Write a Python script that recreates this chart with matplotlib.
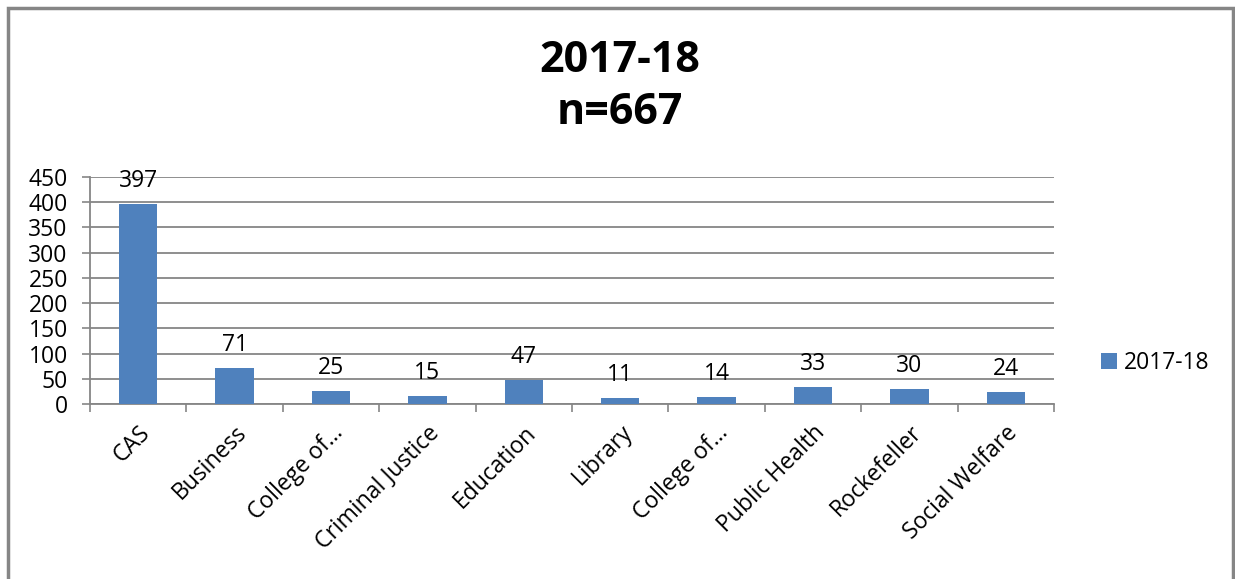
import numpy as np
import matplotlib.pyplot as plt
from matplotlib.patches import Rectangle

# datos
colleges = ["CAS", "Business", "College of…", "Criminal Justice", "Education",
            "Library", "College of…", "Public Health", "Rockefeller", "Social Welfare"]
counts = [397, 71, 25, 15, 47, 11, 14, 33, 30, 24]
series_name = "2017-18"
yticks = [0, 50, 100, 150, 200, 250, 300, 350, 400, 450]

plt.rcParams['font.family'] = ['Open Sans', 'DejaVu Sans']

W, H = 1235, 579
fig = plt.figure(figsize=(W / 100, H / 100), dpi=100)
ax = fig.add_axes([90 / W, 1 - 404 / H, (1054 - 90) / W, (404 - 177) / H])

x = np.arange(len(colleges))
bars = ax.bar(x, counts, width=0.4, color="#4F81BD", label=series_name, zorder=3)

for xi, v in zip(x, counts):
    ax.annotate(str(v), (xi, v), xytext=(0, 8), textcoords="offset points",
                ha="center", va="bottom", fontsize=16.5)

ax.set_xlim(-0.5, len(colleges) - 0.5)
ax.set_ylim(0, 450)
ax.set_yticks(yticks)
ax.tick_params(axis="y", labelsize=16.5, length=6, color="#868686", width=1.2, pad=10)
ax.grid(axis="y", color="#868686", linewidth=1.3, zorder=0)

ax.set_xticks(x)
ax.set_xticklabels(colleges, rotation=45, ha="right", rotation_mode="anchor", fontsize=16.5)
ax.tick_params(axis="x", which="major", length=0, pad=12)
ax.set_xticks(np.arange(-0.5, len(colleges)), minor=True)
ax.tick_params(axis="x", which="minor", length=6, color="#868686", width=1.2)

for s in ["top", "right"]:
    ax.spines[s].set_visible(False)
for s in ["left", "bottom"]:
    ax.spines[s].set_color("#868686")
    ax.spines[s].set_linewidth(1.3)

fig.text(620 / W, 1 - 60 / H, "2017-18", ha="center", va="center", fontsize=31, fontweight="bold")
fig.text(620 / W, 1 - 113 / H, "n=667", ha="center", va="center", fontsize=31, fontweight="bold")

fig.legend(handles=[bars], labels=[series_name], loc="center left",
           bbox_to_anchor=(1080 / W, 1 - 363 / H), frameon=False, fontsize=16.5,
           handlelength=0.7, handleheight=0.7, handletextpad=0.3)

# marco del gráfico
fig.patches.append(Rectangle((8 / W, -0.05), (1233 - 8) / W, 1.05 - 8 / H,
                             transform=fig.transFigure, fill=False,
                             edgecolor="#868686", linewidth=2.5))

fig.savefig("out.png", dpi=100)
